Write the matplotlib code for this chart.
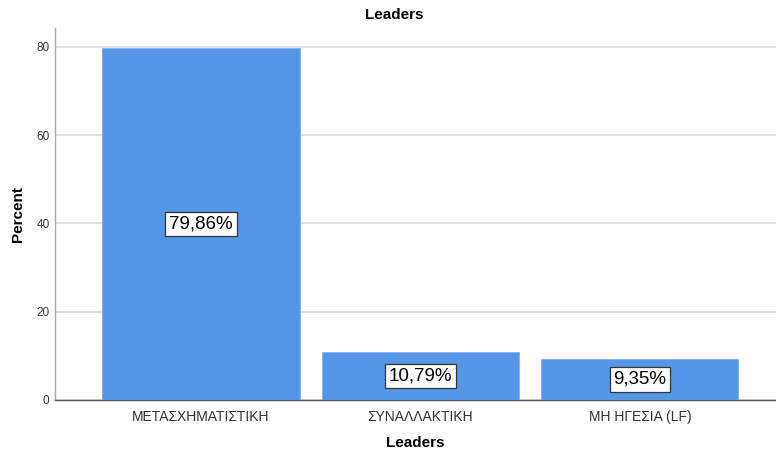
import matplotlib
matplotlib.use("Agg")
import matplotlib.pyplot as plt

categories = ["ΜΕΤΑΣΧΗΜΑΤΙΣΤΙΚΗ", "ΣΥΝΑΛΛΑΚΤΙΚΗ", "ΜΗ ΗΓΕΣΙΑ (LF)"]
percents = [79.86, 10.79, 9.35]
value_labels = ["79,86%", "10,79%", "9,35%"]
yticks = [0, 20, 40, 60, 80]

plt.rcParams['font.family'] = ['Liberation Sans', 'DejaVu Sans']

fig = plt.figure(figsize=(7.76, 4.55), dpi=100)
ax = fig.add_axes([55/776, 55/455, 1 - 55/776, (400-28)/455])

x = list(range(len(categories)))
bars = ax.bar(x, percents, width=0.898, color='#5596e6', edgecolor='#7fb0ee',
              linewidth=0.6, zorder=3)

for xi, v, lab in zip(x, percents, value_labels):
    ax.text(xi, v/2, lab, ha='center', va='center', fontsize=13.5, color='black',
            zorder=5,
            bbox=dict(boxstyle='square,pad=0.2', facecolor='white',
                      edgecolor='#333333', linewidth=0.9))

ax.set_xlim(-0.665, 2.62)
ax.set_ylim(0, 84.3)
ax.set_yticks(yticks)
ax.set_yticklabels([str(t) for t in yticks], fontsize=8.5, color='#333333')
ax.set_xticks(x)
ax.set_xticklabels(categories, fontsize=10, color='#333333')
ax.tick_params(axis='both', length=0)
ax.tick_params(axis='y', pad=4)
ax.tick_params(axis='x', pad=7)

ax.yaxis.grid(True, color='#d9d9d9', linewidth=1.2, zorder=0)
ax.set_axisbelow(True)

for s in ['top', 'right']:
    ax.spines[s].set_visible(False)
ax.spines['left'].set_color('#aaaaaa')
ax.spines['bottom'].set_color('#555555')
ax.spines['left'].set_linewidth(1.0)
ax.spines['bottom'].set_linewidth(1.0)

ax.set_xlabel('Leaders', fontsize=11, fontweight='bold', labelpad=9)
ax.set_ylabel('Percent', fontsize=11, fontweight='bold', labelpad=8)

fig.text(394/776, 1 - 15/455, 'Leaders', ha='center', va='center',
         fontsize=11, fontweight='bold')

fig.savefig('out.png', dpi=100)
